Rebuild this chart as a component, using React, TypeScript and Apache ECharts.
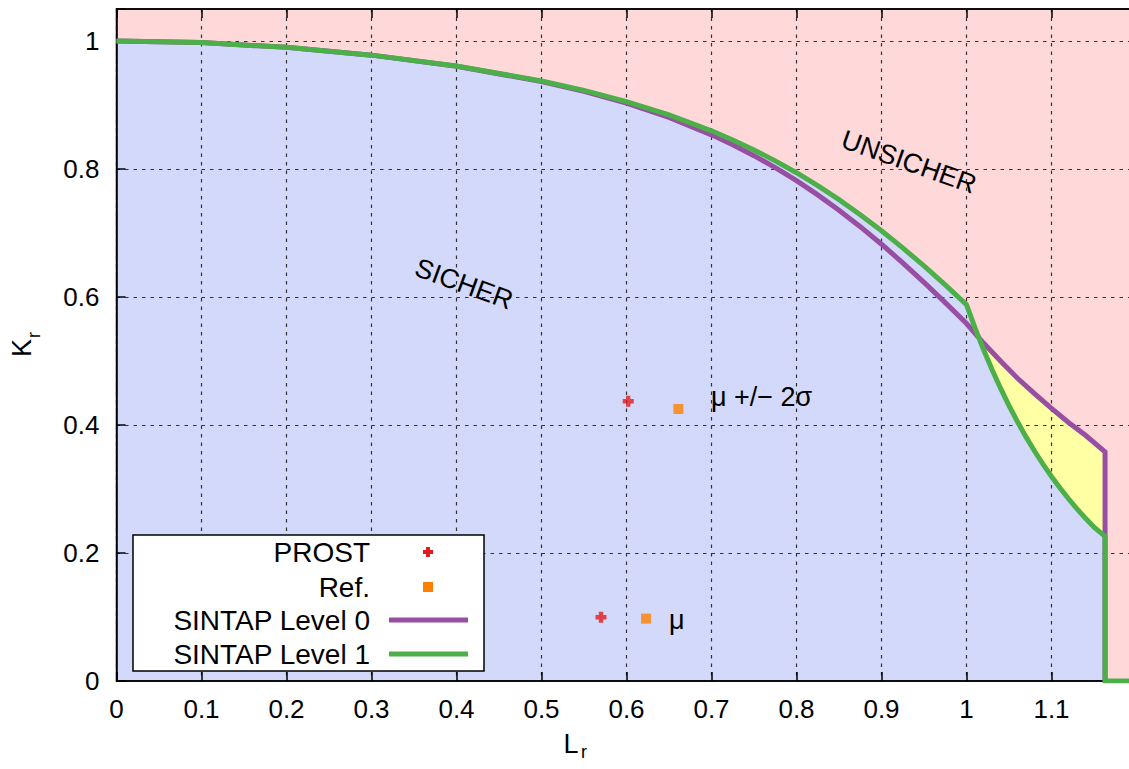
import React, { useEffect, useRef } from "react";
import * as echarts from "echarts";

// Failure assessment diagram: SINTAP Level 0 / Level 1 curves with assessment points
const FONT = '"Liberation Sans", Arial, Helvetica, sans-serif';
const X_MAX = 1.195;
const Y_MAX = 1.05;
const CHART_W = 1140;

// SINTAP Level 0 curve (Lr, Kr)
const lr0 = [0, 0.1, 0.2, 0.3, 0.4, 0.5, 0.55, 0.6, 0.65, 0.7, 0.725, 0.75, 0.775, 0.8, 0.825, 0.85, 0.875, 0.9, 0.925, 0.95, 0.975, 1.0, 1.02, 1.04, 1.06, 1.08, 1.1, 1.12, 1.14, 1.163, 1.163];
const kr0 = [1.0, 0.9975, 0.9901, 0.9779, 0.9606, 0.9367, 0.9212, 0.9028, 0.8805, 0.8534, 0.8379, 0.8208, 0.8021, 0.7818, 0.7596, 0.7356, 0.7099, 0.6825, 0.6534, 0.6229, 0.5912, 0.5586, 0.528, 0.5, 0.473, 0.449, 0.426, 0.404, 0.384, 0.358, 0];

// SINTAP Level 1 curve (Lr, Kr)
const lr1 = [0, 0.1, 0.2, 0.3, 0.4, 0.5, 0.55, 0.6, 0.65, 0.7, 0.725, 0.75, 0.775, 0.8, 0.825, 0.85, 0.875, 0.9, 0.925, 0.95, 0.975, 1.0, 1.01, 1.02, 1.03, 1.04, 1.05, 1.06, 1.07, 1.08, 1.09, 1.1, 1.11, 1.12, 1.13, 1.14, 1.15, 1.163, 1.163, 1.195];
const kr1 = [1.0, 0.9975, 0.9901, 0.9779, 0.9609, 0.9376, 0.9228, 0.9054, 0.8846, 0.8597, 0.8454, 0.8298, 0.8127, 0.7942, 0.774, 0.7521, 0.7286, 0.7035, 0.6767, 0.6485, 0.6188, 0.588, 0.5517, 0.518, 0.4867, 0.4575, 0.4303, 0.405, 0.3814, 0.3593, 0.3387, 0.3195, 0.3015, 0.2847, 0.2689, 0.2542, 0.2404, 0.226, 0, 0];

// Assessment points: mean and mean +/- 2 sigma
const prostLr = [0.602, 0.57];
const prostKr = [0.437, 0.0996];
const refLr = [0.661, 0.623];
const refKr = [0.425, 0.0975];

const seriesNames = ["PROST", "Ref.", "SINTAP Level 0", "SINTAP Level 1"];
const regionLabels = ["SICHER", "UNSICHER"];
const pointLabels = ["μ +/− 2σ", "μ"];

const C_PINK = "#ffd9d9";
const C_BLUE = "#d3d9fb";
const C_YELLOW = "#ffffa3";
const C_PURPLE = "#984ea3";
const C_GREEN = "#4daf4a";
const C_RED = "#e41a1c";
const C_ORANGE = "#ff7f00";

const zip = (xs: number[], ys: number[]) => xs.map((x, i) => [x, ys[i]]);

const PLUS = "path://M3,0H7V3H10V7H7V10H3V7H0V3H3Z";

const fmtX = (v: number) => {
  const t = v * 10;
  return Math.abs(t - Math.round(t)) < 1e-6 ? String(Math.round(t) / 10) : "";
};
const fmtY = (v: number) => {
  const t = v * 5;
  return Math.abs(t - Math.round(t)) < 1e-6 ? String(Math.round(t) / 5) : "";
};

const gridLine = { show: true, lineStyle: { color: "#333", width: 1.2, type: [3.5, 5] as any } };
const tickStyle = { show: true, inside: true, length: 9, lineStyle: { color: "#000", width: 1.5 } };
const lineAxis = { show: true, onZero: false, lineStyle: { color: "#000", width: 1.5 } };

function plusPoints(cx: number, cy: number) {
  const a = 2, b = 5;
  return [
    [cx - a, cy - b], [cx + a, cy - b], [cx + a, cy - a], [cx + b, cy - a],
    [cx + b, cy + a], [cx + a, cy + a], [cx + a, cy + b], [cx - a, cy + b],
    [cx - a, cy + a], [cx - b, cy + a], [cx - b, cy - a], [cx - a, cy - a],
  ];
}

function buildOption(): any {
  const txt = (text: string, x: number, y: number, extra: any = {}, style: any = {}) => ({
    type: "text",
    x,
    y,
    z: 100,
    ...extra,
    style: {
      text,
      fontSize: 27,
      fontFamily: FONT,
      fill: "#000",
      align: "center",
      verticalAlign: "middle",
      ...style,
    },
  });

  const legendX = 370;
  const rows = [552, 587, 620, 654];
  // plot spans x = 116.5 .. 1132.25 (850 px per unit of Lr)
  const plotRight = 116.5 + X_MAX * 850;

  return {
    animation: false,
    backgroundColor: "#fff",
    grid: {
      left: 116.5,
      top: 9,
      right: CHART_W - plotRight,
      bottom: 88,
      show: true,
      borderColor: "#000",
      borderWidth: 1.5,
      backgroundColor: "transparent",
    },
    xAxis: [
      {
        type: "value",
        min: 0,
        max: X_MAX,
        interval: 0.1,
        position: "bottom",
        axisLine: lineAxis,
        axisTick: tickStyle,
        axisLabel: { margin: 15, fontSize: 26, color: "#000", fontFamily: FONT, formatter: fmtX },
        splitLine: gridLine,
      },
      {
        type: "value",
        min: 0,
        max: X_MAX,
        interval: 0.1,
        position: "top",
        axisLine: lineAxis,
        axisTick: tickStyle,
        axisLabel: { show: false },
        splitLine: { show: false },
      },
    ],
    yAxis: {
      type: "value",
      min: 0,
      max: Y_MAX,
      interval: 0.2,
      position: "left",
      axisLine: lineAxis,
      axisTick: tickStyle,
      axisLabel: { margin: 17, fontSize: 26, color: "#000", fontFamily: FONT, formatter: fmtY },
      splitLine: gridLine,
    },
    series: [
      // unsafe region background
      {
        type: "line",
        z: -5,
        data: [[0, Y_MAX], [X_MAX, Y_MAX]],
        symbol: "none",
        lineStyle: { width: 0 },
        areaStyle: { color: C_PINK, opacity: 1 },
        silent: true,
      },
      // region between the two curves
      {
        type: "line",
        z: -4,
        data: zip(lr0, kr0),
        symbol: "none",
        lineStyle: { width: 0 },
        areaStyle: { color: C_YELLOW, opacity: 1 },
        silent: true,
      },
      // safe region below Level 1
      {
        type: "line",
        z: -3,
        data: zip(lr1, kr1),
        symbol: "none",
        lineStyle: { width: 0 },
        areaStyle: { color: C_BLUE, opacity: 1 },
        silent: true,
      },
      {
        name: seriesNames[2],
        type: "line",
        z: 3,
        data: zip(lr0, kr0),
        symbol: "none",
        lineStyle: { color: C_PURPLE, width: 5, join: "miter" },
      },
      {
        name: seriesNames[3],
        type: "line",
        z: 4,
        data: zip(lr1, kr1),
        symbol: "none",
        lineStyle: { color: C_GREEN, width: 5, join: "miter" },
      },
      {
        name: seriesNames[0],
        type: "scatter",
        z: 5,
        data: zip(prostLr, prostKr),
        symbol: PLUS,
        symbolSize: 11,
        itemStyle: { color: C_RED },
      },
      {
        name: seriesNames[1],
        type: "scatter",
        z: 5,
        data: zip(refLr, refKr),
        symbol: "rect",
        symbolSize: 10,
        itemStyle: { color: C_ORANGE },
      },
    ],
    graphic: [
      // axis titles
      txt("K", 22, 348, { rotation: Math.PI / 2 }),
      txt("r", 33.5, 335, { rotation: Math.PI / 2 }, { fontSize: 18 }),
      txt("L", 571, 744),
      txt("r", 584, 752, {}, { fontSize: 18 }),
      // region labels
      txt(regionLabels[0], 464, 284, { rotation: -0.35 }, { fontSize: 27 }),
      txt(regionLabels[1], 909, 162, { rotation: -0.34 }, { fontSize: 27 }),
      // point annotations
      txt(pointLabels[0], 711, 397, {}, { align: "left", fontSize: 27 }),
      txt(pointLabels[1], 669, 620, {}, { align: "left", fontSize: 27 }),
      // legend box
      {
        type: "rect",
        z: 90,
        shape: { x: 133, y: 535, width: 351, height: 136 },
        style: { fill: "#fff", stroke: "#000", lineWidth: 1.5 },
      },
      txt(seriesNames[0], legendX, rows[0], {}, { align: "right", fontSize: 28 }),
      txt(seriesNames[1], legendX, rows[1], {}, { align: "right", fontSize: 28 }),
      txt(seriesNames[2], legendX, rows[2], {}, { align: "right", fontSize: 28 }),
      txt(seriesNames[3], legendX, rows[3], {}, { align: "right", fontSize: 28 }),
      {
        type: "polygon",
        z: 100,
        shape: { points: plusPoints(428, rows[0]) },
        style: { fill: C_RED },
      },
      {
        type: "rect",
        z: 100,
        shape: { x: 423, y: rows[1] - 5, width: 10, height: 10 },
        style: { fill: C_ORANGE },
      },
      {
        type: "line",
        z: 100,
        shape: { x1: 389, y1: rows[2], x2: 468, y2: rows[2] },
        style: { stroke: C_PURPLE, lineWidth: 5 },
      },
      {
        type: "line",
        z: 100,
        shape: { x1: 389, y1: rows[3], x2: 468, y2: rows[3] },
        style: { stroke: C_GREEN, lineWidth: 5 },
      },
    ],
  };
}

export default function App() {
  const ref = useRef<HTMLDivElement>(null);
  useEffect(() => {
    if (!ref.current) return;
    const chart = echarts.init(ref.current, null, { renderer: "svg" });
    chart.setOption(buildOption());
    return () => chart.dispose();
  }, []);
  return (
    <div
      style={{
        position: "absolute",
        left: 0,
        top: 0,
        width: 1129,
        height: 769,
        overflow: "hidden",
        background: "#fff",
      }}
    >
      <div ref={ref} style={{ width: CHART_W, height: 769 }} />
    </div>
  );
}
